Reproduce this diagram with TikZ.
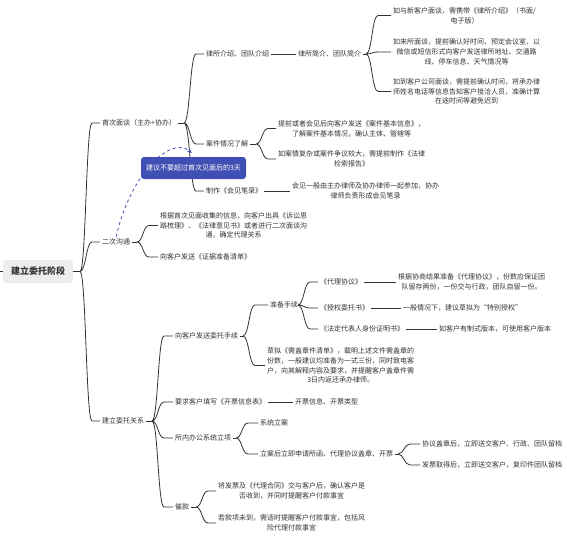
\documentclass[tikz,border=0pt]{standalone}
\usepackage{fontspec}
\newfontfamily\cjk{Noto Sans CJK SC}
\usetikzlibrary{arrows.meta,positioning,calc}
\definecolor{ink}{HTML}{333333}
\definecolor{rootgray}{HTML}{EDEDED}
\definecolor{noteblue}{HTML}{3F4FB3}

\begin{document}
\begin{tikzpicture}[
    x=1pt, y=-1pt,
    topic/.style={anchor=west, inner sep=2pt, align=center, text=ink, font=\cjk\fontsize{7}{9.8}\selectfont},
    root/.style={rectangle, rounded corners=3pt, fill=rootgray, minimum width=70pt, minimum height=23pt, text=ink, font=\cjk\bfseries\fontsize{9}{11}\selectfont},
    note/.style={rectangle, rounded corners=3pt, fill=noteblue, minimum width=105pt, minimum height=22pt, text=white, font=\cjk\fontsize{7}{9}\selectfont},
    link/.style={draw=ink, line width=0.8pt},
    branch/.style={to path={.. controls ($(\tikztostart)+(6,0)$) and ($(\tikztostart|-\tikztotarget)+(6,0)$) .. ($(\tikztostart|-\tikztotarget)+(12,0)$) -- (\tikztotarget)}},
    remind/.style={draw=noteblue, dashed, line width=0.8pt, -{Stealth[length=5pt]}}
]
\useasboundingbox (0,0) rectangle (567,544);

% root and first level
\coordinate (entry) at (0,271.5);
\node[root] (root) at (38,271.5) {建立委托阶段};
\coordinate (b0) at (80,271.5);
\node[topic] (first) at (100,123) {首次面谈（主办+协办）};
\node[topic] (second) at (100,242) {二次沟通};
\node[topic] (third) at (100,421) {建立委托关系};

% first meeting
\coordinate (b1) at (184,123);
\node[topic] (intro) at (204,54) {律所介绍、团队介绍};
\node[topic] (case) at (204,144) {案件情况了解};
\node[topic] (record) at (204,191) {制作《会见笔录》};
\node[topic] (brief) at (296,54) {律所简介、团队简介};
\coordinate (b2) at (366,54);
\node[topic] (meetnew) at (391,15.5) {如与新客户面谈，需携带《律所介绍》（书面/\\电子版）};
\node[topic] (meetoffice) at (391,52) {如来所面谈，提前确认好时间、预定会议室、以\\微信或短信形式向客户发送律所地址、交通路\\线、停车信息、天气情况等};
\node[topic] (meetclient) at (391,91.5) {如到客户公司面谈，需提前确认时间，将承办律\\师姓名电话等信息告知客户接洽人员，准确计算\\在途时间等避免迟到};
\coordinate (b3) at (256,144);
\node[topic] (caseinfo) at (276,128.5) {提前或者会见后向客户发送《案件基本信息》，\\了解案件基本情况，确认主体、管辖等};
\node[topic] (casereport) at (276,159) {如案情复杂或案件争议较大，需提前制作《法律\\检索报告》};
\node[topic] (minutes) at (290,191) {会见一般由主办律师及协办律师一起参加，协办\\律师负责形成会见笔录};

% second talk
\coordinate (b4) at (137,242);
\node[topic] (opinion) at (158,225.5) {根据首次见面收集的信息，向客户出具《诉讼思\\路梳理》、《法律意见书》或者进行二次面谈沟\\通，确定代理关系};
\node[topic] (evidence) at (158,257) {向客户发送《证据准备清单》};

% engagement
\coordinate (b5) at (152,421);
\node[topic] (send) at (173,336) {向客户发送委托手续};
\node[topic] (invoice) at (173,402) {要求客户填写《开票信息表》};
\node[topic] (filing) at (173,438) {所内办公系统立项};
\node[topic] (dun) at (173,507) {催款};
\coordinate (b6) at (243,336);
\node[topic] (prep) at (268,305) {准备手续};
\node[topic] (stamplist) at (265,365.5) {草拟《需盖章件清单》，载明上述文件需盖章的\\份数，一般建议均准备为一式三份，同时致电客\\户，向其解释内容及要求，并提醒客户盖章件需\\3日内返还承办律师。};
\coordinate (b7) at (298,305);
\node[topic] (agreement) at (318,282) {《代理协议》};
\node[topic] (poa) at (318,308) {《授权委托书》};
\node[topic] (legalrep) at (318,329) {《法定代表人身份证明书》};
\node[topic] (copies) at (396,282) {根据协商结果准备《代理协议》，份数应保证团\\队留存两份，一份交与行政，团队自留一份。};
\node[topic] (special) at (401,308) {一般情况下，建议草拟为“特别授权”};
\node[topic] (ownform) at (437,329) {如客户有制式版本，可使用客户版本};
\node[topic] (invoiceinfo) at (293,402) {开票信息、开票类型};
\coordinate (b8) at (236,438);
\node[topic] (system) at (258,423) {系统立案};
\node[topic] (seal) at (258,454) {立案后立即申请所函、代理协议盖章、开票};
\coordinate (b9) at (398,454);
\node[topic] (sealed) at (420,444) {协议盖章后，立即送交客户、行政、团队留档};
\node[topic] (billed) at (420,465) {发票取得后，立即送交客户，复印件团队留档};
\coordinate (b10) at (196,507);
\node[topic] (payask) at (216,491) {将发票及《代理合同》交与客户后，确认客户是\\否收到，并同时提醒客户付款事宜};
\node[topic] (payfollow) at (216,523) {若款项未到，需适时提醒客户付款事宜，包括风\\险代理付款事宜};

% connectors
\draw[link] (entry) -- (root.west);
\draw[link] (root.east) -- (b0);
\draw[link] (b0) to[branch] (first.west) (b0) to[branch] (second.west) (b0) to[branch] (third.west);
\draw[link] (first.east) -- (b1);
\draw[link] (b1) to[branch] (intro.west) (b1) to[branch] (case.west) (b1) to[branch] (record.west);
\draw[link] (intro) -- (brief);
\draw[link] (brief.east) -- (b2);
\draw[link] (b2) to[branch] (meetnew.west) (b2) to[branch] (meetoffice.west) (b2) to[branch] (meetclient.west);
\draw[link] (case.east) -- (b3);
\draw[link] (b3) to[branch] (caseinfo.west) (b3) to[branch] (casereport.west);
\draw[link] (record) -- (minutes);
\draw[link] (second.east) -- (b4);
\draw[link] (b4) to[branch] (opinion.west) (b4) to[branch] (evidence.west);
\draw[link] (third.east) -- (b5);
\draw[link] (b5) to[branch] (send.west) (b5) to[branch] (invoice.west) (b5) to[branch] (filing.west) (b5) to[branch] (dun.west);
\draw[link] (send.east) -- (b6);
\draw[link] (b6) to[branch] (prep.west) (b6) to[branch] (stamplist.west);
\draw[link] (prep.east) -- (b7);
\draw[link] (b7) to[branch] (agreement.west) (b7) to[branch] (poa.west) (b7) to[branch] (legalrep.west);
\draw[link] (agreement) -- (copies);
\draw[link] (poa) -- (special);
\draw[link] (legalrep) -- (ownform);
\draw[link] (invoice) -- (invoiceinfo);
\draw[link] (filing.east) -- (b8);
\draw[link] (b8) to[branch] (system.west) (b8) to[branch] (seal.west);
\draw[link] (seal.east) -- (b9);
\draw[link] (b9) to[branch] (sealed.west) (b9) to[branch] (billed.west);
\draw[link] (dun.east) -- (b10);
\draw[link] (b10) to[branch] (payask.west) (b10) to[branch] (payfollow.west);

% reminder note
\coordinate (hintend) at (192,153);
\draw[remind] (second.north) .. controls (130,175) and (170,135) .. (hintend);
\node[note] (tip) at (193.5,168) {建议不要超过首次见面后的3天};
\end{tikzpicture}
\end{document}
